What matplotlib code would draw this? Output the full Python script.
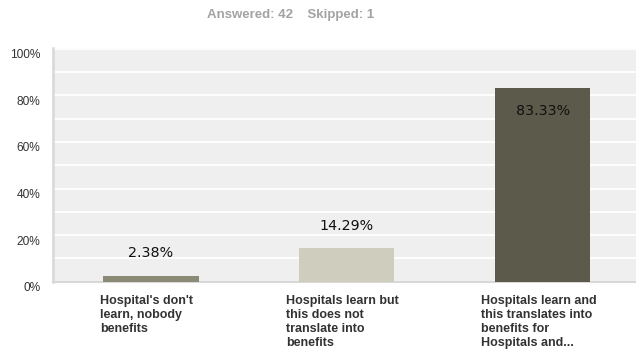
import matplotlib
matplotlib.use("Agg")
import matplotlib.pyplot as plt
from matplotlib.transforms import ScaledTranslation

# survey answers
categories = [
    "Hospital's don't\nlearn, nobody\nbenefits",
    "Hospitals learn but\nthis does not\ntranslate into\nbenefits",
    "Hospitals learn and\nthis translates into\nbenefits for\nHospitals and...",
]
percents = [2.38, 14.29, 83.33]
bar_colors = ["#8a8a77", "#cfcdbe", "#5c5a4a"]
yticks = [0, 20, 40, 60, 80, 100]
ytick_labels = ["0%", "20%", "40%", "60%", "80%", "100%"]
header = "Answered: 42    Skipped: 1"

fig = plt.figure(figsize=(6.36, 3.55), dpi=100)
ax = fig.add_axes([53 / 636, 73.3 / 355, 583 / 636, 234 / 355])
ax.set_facecolor("#efefef")

xs = range(len(percents))
ax.bar(xs, percents, width=0.485, color=bar_colors, zorder=3)

ax.set_xlim(-0.5, 2.475)
ax.set_ylim(0, 100.5)
for g in range(10, 101, 10):
    ax.axhline(g, color="white", lw=1.3, zorder=1)

ax.set_yticks(yticks)
ax.set_yticklabels(ytick_labels, fontsize=8.6, color="#333333", family="Liberation Sans")
ax.tick_params(axis="y", length=0, pad=9)
ax.tick_params(axis="x", length=0)
ax.set_xticks([])
for lab in ax.get_yticklabels():
    lab.set_transform(lab.get_transform() + ScaledTranslation(0, -5 / 100, fig.dpi_scale_trans))

for side in ("top", "right"):
    ax.spines[side].set_visible(False)
ax.spines["left"].set_color("#d8d8d8")
ax.spines["left"].set_linewidth(1.8)
ax.spines["bottom"].set_color("#d8d8d8")
ax.spines["bottom"].set_linewidth(1.5)

# value labels: above short bars, inside the tall one
for x, v in zip(xs, percents):
    off = -16.5 if v > 50 else 16.5
    ax.annotate(f"{v:.2f}%", (x, v), xytext=(0, off), textcoords="offset points",
                ha="center", va="center", fontsize=10.3, color="#111111", zorder=4)

# category names under the axis, left aligned
label_dx = [-0.26, -0.31, -0.315]
for x, name, dx in zip(xs, categories, label_dx):
    ax.text(x + dx, -5.8, name, ha="left", va="top", fontsize=9, fontweight="bold",
            color="#333333", family="Liberation Sans", linespacing=1.22)

fig.text(291 / 636, 1 - 15 / 355, header, ha="center", va="center", fontsize=9.5,
         fontweight="bold", color="#a3a3a3", family="Liberation Sans")

fig.savefig("out.png", dpi=100, facecolor="white")
